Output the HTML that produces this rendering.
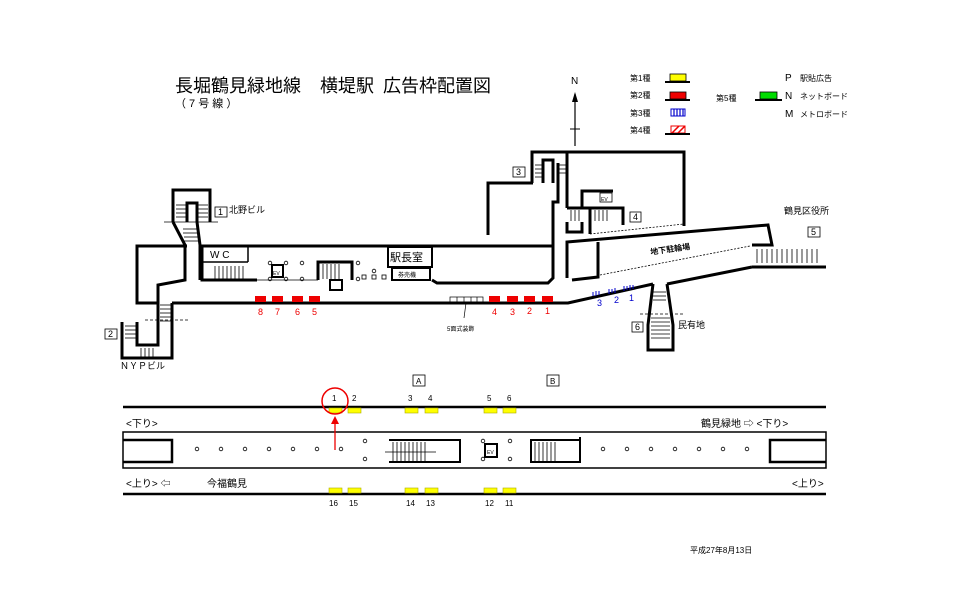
<!DOCTYPE html>
<html><head><meta charset="utf-8"><style>
html,body{margin:0;padding:0;background:#fff;}
svg{display:block;}
text{font-family:"Liberation Sans","Noto Sans CJK JP",sans-serif;}
</style></head><body>
<svg width="960" height="605" viewBox="0 0 960 605" xmlns="http://www.w3.org/2000/svg">
<rect width="960" height="605" fill="#fff"/>
<!-- Title -->
<text x="175" y="92" font-size="18" fill="#000">長堀鶴見緑地線</text>
<text x="320" y="92" font-size="18" fill="#000">横堤駅</text>
<text x="383" y="92" font-size="18" fill="#000">広告枠配置図</text>
<text x="175" y="107" font-size="11" fill="#000">（ 7 号 線 ）</text>
<!-- North -->
<text x="571" y="84" font-size="10">N</text>
<line x1="575" y1="94" x2="575" y2="146" stroke="#000" stroke-width="1.2"/>
<polygon points="575,92 572,102 578,102" fill="#000"/>
<line x1="570" y1="129" x2="580" y2="129" stroke="#000"/>
<!-- Legend -->
<g font-size="8">
<text x="630" y="81">第1種</text><text x="630" y="98">第2種</text><text x="630" y="116">第3種</text><text x="630" y="133">第4種</text>
<text x="716" y="101">第5種</text>
<text x="785" y="81" font-size="10">P</text><text x="800" y="81">駅貼広告</text>
<text x="785" y="99" font-size="10">N</text><text x="800" y="99">ネットボード</text>
<text x="785" y="117" font-size="10">M</text><text x="800" y="117">メトロボード</text>
</g>
<rect x="670" y="74" width="16" height="7" fill="#ff0" stroke="#000" stroke-width=".8"/><line x1="665" y1="82" x2="690" y2="82" stroke="#000" stroke-width="2"/>
<rect x="670" y="92" width="16" height="7" fill="#e00" stroke="#000" stroke-width=".8"/><line x1="665" y1="100" x2="690" y2="100" stroke="#000" stroke-width="2"/>
<rect x="671" y="109" width="14" height="7" fill="#fff" stroke="#00c" stroke-width="1"/>
<g stroke="#00c" stroke-width="1.2"><line x1="674" y1="109" x2="674" y2="116"/><line x1="677" y1="109" x2="677" y2="116"/><line x1="680" y1="109" x2="680" y2="116"/><line x1="683" y1="109" x2="683" y2="116"/></g>
<rect x="671" y="126" width="14" height="7" fill="#fff" stroke="#e00"/>
<line x1="672" y1="133" x2="679" y2="126" stroke="#e00" stroke-width="1.5"/><line x1="678" y1="133" x2="685" y2="126" stroke="#e00" stroke-width="1.5"/>
<line x1="665" y1="134" x2="690" y2="134" stroke="#000" stroke-width="2"/>
<rect x="760" y="92" width="17" height="7" fill="#0d0" stroke="#000" stroke-width=".8"/><line x1="755" y1="100" x2="782" y2="100" stroke="#000" stroke-width="2"/>

<!-- Station plan walls -->
<g fill="none" stroke="#000" stroke-width="3">
<polyline points="187,246 137,246 137,303 158,303"/>
<line x1="200" y1="246" x2="553" y2="246"/>
<polyline points="172,303 568,303 653,284"/>
<polyline points="667,284 752,267"/>
<polyline points="173,222 173,190 210,190 210,222"/>
<polyline points="187,222 187,203 197,203 197,222"/>
<polyline points="173,222 185,245 185,280 158,285 158,345 137,345 137,322"/>
<polyline points="197,222 200,245 200,280"/>
<polyline points="172,303 172,358 122,358 122,322"/>
<polyline points="202,247 202,280 257,280"/>
<line x1="202" y1="262" x2="248" y2="262" stroke-width="1.5"/>
<line x1="248" y1="247" x2="248" y2="262" stroke-width="1.5"/>
<polyline points="318,280 318,262 352,262 352,280"/>
<rect x="330" y="280" width="12" height="10" stroke-width="2"/>
<rect x="388" y="247" width="44" height="20" stroke-width="2"/>
<rect x="392" y="268" width="38" height="12" stroke-width="2"/>
<polyline points="432,280 437,283 548,283 553,278 553,202 558,202 558,163"/>
<polyline points="488,235 488,183 533,183"/>
<polyline points="532,183 532,152 568,152"/>
<polyline points="543,183 543,160 553,160 553,183"/>
<polyline points="568,152 684,152 684,226"/>
<line x1="567" y1="152" x2="567" y2="208"/>
<polyline points="582,208 582,191 613,191"/>
<polyline points="567,208 623,208 623,225"/>
<polyline points="567,222 567,232 582,232 582,222"/>
<polyline points="590,208 590,234"/>
<polyline points="567,278 567,242 768,225 772,245 752,245"/>
<polyline points="598,242 598,277 572,280"/>
<line x1="752" y1="267" x2="826" y2="267"/>
<polyline points="653,284 648,325 648,350 673,350 673,325 667,284"/>
</g>
<g stroke="#000" stroke-width=".8" stroke-dasharray="2,1.5"><line x1="590" y1="234" x2="684" y2="224"/><line x1="600" y1="275" x2="750" y2="246"/></g>
<g stroke="#000" stroke-width=".8">
<line x1="176" y1="205" x2="186" y2="205"/><line x1="176" y1="209" x2="186" y2="209"/><line x1="176" y1="213" x2="186" y2="213"/><line x1="176" y1="217" x2="186" y2="217"/>
<line x1="198" y1="205" x2="208" y2="205"/><line x1="198" y1="209" x2="208" y2="209"/><line x1="198" y1="213" x2="208" y2="213"/><line x1="198" y1="217" x2="208" y2="217"/>
<line x1="183" y1="229" x2="197" y2="229"/><line x1="183" y1="233" x2="197" y2="233"/><line x1="184" y1="237" x2="198" y2="237"/><line x1="184" y1="241" x2="199" y2="241"/>
<line x1="164" y1="222" x2="218" y2="222"/>
<line x1="160" y1="305" x2="172" y2="305"/><line x1="160" y1="309" x2="172" y2="309"/><line x1="160" y1="313" x2="172" y2="313"/><line x1="160" y1="317" x2="172" y2="317"/><line x1="160" y1="321" x2="172" y2="321"/>
<line x1="125" y1="326" x2="136" y2="326"/><line x1="125" y1="330" x2="136" y2="330"/><line x1="125" y1="334" x2="136" y2="334"/><line x1="125" y1="338" x2="136" y2="338"/>
<line x1="141" y1="348" x2="141" y2="357"/><line x1="145" y1="348" x2="145" y2="357"/><line x1="149" y1="348" x2="149" y2="357"/><line x1="153" y1="348" x2="153" y2="357"/>
<line x1="145" y1="320" x2="188" y2="320" stroke-dasharray="3,2"/>
<line x1="215" y1="266" x2="215" y2="279"/><line x1="219" y1="266" x2="219" y2="279"/><line x1="223" y1="266" x2="223" y2="279"/><line x1="227" y1="266" x2="227" y2="279"/><line x1="231" y1="266" x2="231" y2="279"/><line x1="235" y1="266" x2="235" y2="279"/><line x1="239" y1="266" x2="239" y2="279"/><line x1="243" y1="266" x2="243" y2="279"/>
<line x1="323" y1="264" x2="323" y2="279"/><line x1="327" y1="264" x2="327" y2="279"/><line x1="331" y1="264" x2="331" y2="279"/><line x1="335" y1="264" x2="335" y2="279"/><line x1="339" y1="264" x2="339" y2="279"/>
<line x1="535" y1="165" x2="543" y2="165"/><line x1="535" y1="169" x2="543" y2="169"/><line x1="535" y1="173" x2="543" y2="173"/><line x1="535" y1="177" x2="543" y2="177"/>
<line x1="558" y1="165" x2="567" y2="165"/><line x1="558" y1="169" x2="567" y2="169"/><line x1="558" y1="173" x2="567" y2="173"/>
<line x1="571" y1="210" x2="571" y2="221"/><line x1="575" y1="210" x2="575" y2="221"/><line x1="579" y1="210" x2="579" y2="221"/><line x1="595" y1="210" x2="595" y2="221"/><line x1="599" y1="210" x2="599" y2="221"/><line x1="603" y1="210" x2="603" y2="221"/><line x1="607" y1="210" x2="607" y2="221"/>
<line x1="757" y1="249" x2="757" y2="263"/><line x1="762" y1="249" x2="762" y2="263"/><line x1="767" y1="249" x2="767" y2="263"/><line x1="772" y1="249" x2="772" y2="263"/><line x1="777" y1="249" x2="777" y2="263"/><line x1="782" y1="249" x2="782" y2="263"/><line x1="787" y1="249" x2="787" y2="263"/><line x1="792" y1="249" x2="792" y2="263"/><line x1="797" y1="249" x2="797" y2="263"/><line x1="802" y1="249" x2="802" y2="263"/><line x1="807" y1="249" x2="807" y2="263"/><line x1="812" y1="249" x2="812" y2="263"/><line x1="817" y1="249" x2="817" y2="263"/>
<line x1="652" y1="292" x2="666" y2="292"/><line x1="652" y1="296" x2="666" y2="296"/><line x1="653" y1="300" x2="666" y2="300"/><line x1="651" y1="318" x2="670" y2="318"/><line x1="651" y1="322" x2="670" y2="322"/><line x1="651" y1="326" x2="670" y2="326"/><line x1="651" y1="330" x2="670" y2="330"/><line x1="651" y1="334" x2="670" y2="334"/><line x1="651" y1="338" x2="670" y2="338"/>
<line x1="640" y1="314" x2="685" y2="314" stroke-dasharray="3,2"/>
<line x1="257" y1="280" x2="318" y2="280"/>
</g>
<rect x="272" y="265" width="11" height="12" fill="none" stroke="#000" stroke-width="2"/>
<text x="273" y="275" font-size="5">EV</text>
<rect x="600" y="193" width="12" height="9" fill="none" stroke="#000" stroke-width=".8"/><text x="601" y="201" font-size="5">EV</text>
<g fill="none" stroke="#000" stroke-width=".8"><circle cx="270" cy="263" r="1.8"/><circle cx="286" cy="263" r="1.8"/><circle cx="270" cy="279" r="1.8"/><circle cx="286" cy="279" r="1.8"/><circle cx="302" cy="263" r="1.8"/><circle cx="302" cy="279" r="1.8"/><circle cx="358" cy="263" r="1.8"/><circle cx="358" cy="279" r="1.8"/><circle cx="374" cy="271" r="1.8"/><rect x="362" y="275" width="4" height="4"/><rect x="372" y="275" width="4" height="4"/><rect x="382" y="275" width="4" height="4"/></g>
<text x="210" y="258" font-size="10">W C</text>
<text x="390" y="261" font-size="11">駅長室</text>
<text x="398" y="277" font-size="6">券売機</text>
<g font-size="9"><rect x="215" y="207" width="12" height="10" fill="none" stroke="#000" stroke-width=".8"/><text x="218" y="215">1</text><text x="229" y="213">北野ビル</text>
<rect x="105" y="329" width="12" height="10" fill="none" stroke="#000" stroke-width=".8"/><text x="108" y="337">2</text><text x="120" y="369">ＮＹＰビル</text>
<rect x="513" y="167" width="12" height="10" fill="none" stroke="#000" stroke-width=".8"/><text x="516" y="175">3</text>
<rect x="630" y="212" width="11" height="10" fill="none" stroke="#000" stroke-width=".8"/><text x="633" y="220">4</text>
<rect x="808" y="227" width="12" height="10" fill="none" stroke="#000" stroke-width=".8"/><text x="811" y="235">5</text>
<rect x="632" y="322" width="11" height="10" fill="none" stroke="#000" stroke-width=".8"/><text x="635" y="330">6</text>
<text x="784" y="214">鶴見区役所</text><text x="678" y="328">民有地</text></g>
<text x="650" y="252" font-size="8" font-weight="bold" transform="rotate(-8 670 248)">地下駐輪場</text>
<g fill="#e00"><rect x="255" y="296" width="11" height="6"/><rect x="272" y="296" width="11" height="6"/><rect x="292" y="296" width="11" height="6"/><rect x="309" y="296" width="11" height="6"/><rect x="489" y="296" width="11" height="6"/><rect x="507" y="296" width="11" height="6"/><rect x="524" y="296" width="11" height="6"/><rect x="542" y="296" width="11" height="6"/></g>
<g fill="#e00" font-size="9"><text x="258" y="315">8</text><text x="275" y="315">7</text><text x="295" y="315">6</text><text x="312" y="315">5</text><text x="492" y="315">4</text><text x="510" y="315">3</text><text x="527" y="314">2</text><text x="545" y="314">1</text></g>
<g fill="none" stroke="#000" stroke-width=".7"><rect x="450" y="297" width="33" height="5"/><line x1="457" y1="297" x2="457" y2="302"/><line x1="464" y1="297" x2="464" y2="302"/><line x1="471" y1="297" x2="471" y2="302"/><line x1="477" y1="297" x2="477" y2="302"/><line x1="466" y1="303" x2="464" y2="318"/></g>
<text x="447" y="331" font-size="6">5面式装飾</text>
<g stroke="#00c" stroke-width="1"><line x1="593" y1="292" x2="593" y2="296"/><line x1="596" y1="291" x2="596" y2="296"/><line x1="599" y1="291" x2="599" y2="295"/><line x1="609" y1="289" x2="609" y2="294"/><line x1="612" y1="289" x2="612" y2="293"/><line x1="615" y1="288" x2="615" y2="293"/><line x1="624" y1="286" x2="624" y2="291"/><line x1="627" y1="286" x2="627" y2="290"/><line x1="630" y1="285" x2="630" y2="290"/><line x1="633" y1="285" x2="633" y2="289"/></g>
<g fill="#00c" font-size="9"><text x="597" y="306">3</text><text x="614" y="303">2</text><text x="629" y="301">1</text></g>

<!-- Platform diagram -->
<g stroke="#000" stroke-width="2.5"><line x1="123" y1="407" x2="826" y2="407"/><line x1="123" y1="494" x2="826" y2="494"/></g>
<rect x="123" y="432" width="703" height="36" fill="none" stroke="#000" stroke-width="1.5"/>
<polyline points="123,440 172,440 172,462 123,462" fill="none" stroke="#000" stroke-width="2.5"/>
<polyline points="826,440 770,440 770,462 826,462" fill="none" stroke="#000" stroke-width="2.5"/>
<g fill="#ff0" stroke="#aa0" stroke-width=".6"><rect x="329" y="408" width="13" height="5"/><rect x="348" y="408" width="13" height="5"/><rect x="405" y="408" width="13" height="5"/><rect x="425" y="408" width="13" height="5"/><rect x="484" y="408" width="13" height="5"/><rect x="503" y="408" width="13" height="5"/>
<rect x="329" y="488" width="13" height="5"/><rect x="348" y="488" width="13" height="5"/><rect x="405" y="488" width="13" height="5"/><rect x="425" y="488" width="13" height="5"/><rect x="484" y="488" width="13" height="5"/><rect x="503" y="488" width="13" height="5"/></g>
<g font-size="8"><text x="332" y="401">1</text><text x="352" y="401">2</text><text x="408" y="401">3</text><text x="428" y="401">4</text><text x="487" y="401">5</text><text x="507" y="401">6</text>
<text x="329" y="506">16</text><text x="349" y="506">15</text><text x="406" y="506">14</text><text x="426" y="506">13</text><text x="485" y="506">12</text><text x="505" y="506">11</text>
<rect x="413" y="375" width="12" height="11" fill="none" stroke="#000" stroke-width=".8"/><text x="416" y="384">A</text>
<rect x="547" y="375" width="12" height="11" fill="none" stroke="#000" stroke-width=".8"/><text x="550" y="384">B</text></g>
<circle cx="335" cy="401" r="13" fill="none" stroke="#e00" stroke-width="1.5"/>
<line x1="335" y1="450" x2="335" y2="420" stroke="#e00" stroke-width="1.3"/><polygon points="335,416 331,424 339,424" fill="#e00"/>
<g font-size="10"><text x="126" y="427">&lt;下り&gt;</text><text x="701" y="427">鶴見緑地 ⇨ &lt;下り&gt;</text>
<text x="126" y="487">&lt;上り&gt; ⇦</text><text x="207" y="487">今福鶴見</text><text x="792" y="487">&lt;上り&gt;</text></g>
<g fill="none" stroke="#000" stroke-width=".8">
<circle cx="197" cy="449" r="1.8"/><circle cx="221" cy="449" r="1.8"/><circle cx="245" cy="449" r="1.8"/><circle cx="269" cy="449" r="1.8"/><circle cx="293" cy="449" r="1.8"/><circle cx="317" cy="449" r="1.8"/><circle cx="341" cy="449" r="1.8"/>
<circle cx="365" cy="441" r="1.8"/><circle cx="365" cy="459" r="1.8"/><circle cx="510" cy="441" r="1.8"/><circle cx="510" cy="459" r="1.8"/><circle cx="483" cy="441" r="1.8"/><circle cx="483" cy="459" r="1.8"/>
<circle cx="603" cy="449" r="1.8"/><circle cx="627" cy="449" r="1.8"/><circle cx="651" cy="449" r="1.8"/><circle cx="675" cy="449" r="1.8"/><circle cx="699" cy="449" r="1.8"/><circle cx="723" cy="449" r="1.8"/><circle cx="747" cy="449" r="1.8"/></g>
<polyline points="389,440 460,440 460,462 389,462" fill="none" stroke="#000" stroke-width="2"/>
<g stroke="#000" stroke-width=".8"><line x1="393" y1="442" x2="393" y2="461"/><line x1="397" y1="442" x2="397" y2="461"/><line x1="401" y1="442" x2="401" y2="461"/><line x1="405" y1="442" x2="405" y2="461"/><line x1="409" y1="442" x2="409" y2="461"/><line x1="413" y1="442" x2="413" y2="461"/><line x1="417" y1="442" x2="417" y2="461"/><line x1="421" y1="442" x2="421" y2="461"/><line x1="425" y1="442" x2="425" y2="461"/><line x1="385" y1="452" x2="436" y2="452"/>
<line x1="535" y1="442" x2="535" y2="461"/><line x1="539" y1="442" x2="539" y2="461"/><line x1="543" y1="442" x2="543" y2="461"/><line x1="547" y1="442" x2="547" y2="461"/><line x1="551" y1="442" x2="551" y2="461"/><line x1="555" y1="442" x2="555" y2="461"/></g>
<polyline points="580,437 580,462 531,462 531,440 580,440" fill="none" stroke="#000" stroke-width="2"/>
<rect x="485" y="444" width="12" height="13" fill="none" stroke="#000" stroke-width="2"/><text x="487" y="454" font-size="5">EV</text>
<text x="690" y="553" font-size="8">平成27年8月13日</text>
</svg>
</body></html>
